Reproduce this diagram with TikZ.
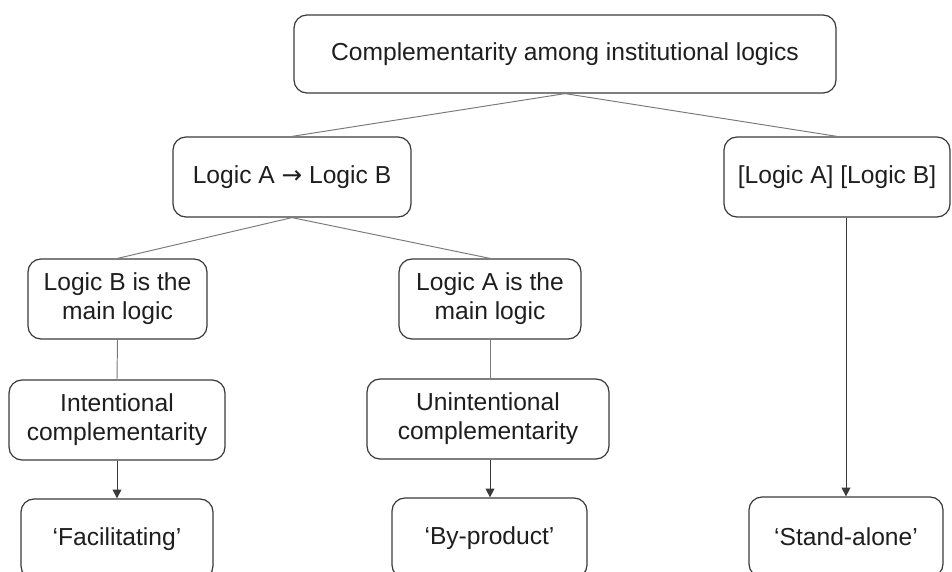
\documentclass[tikz,border=0pt]{standalone}
\usepackage{fontspec}
\setmainfont{Liberation Sans}
\newfontfamily\arrowfont{DejaVu Sans}
\usepackage{tikz}
\usetikzlibrary{arrows.meta}
\usepackage{xcolor}
\definecolor{boxline}{HTML}{3A3A3A}
\definecolor{linkline}{HTML}{7A7A7A}
\definecolor{txt}{HTML}{1E1E1E}

\tikzset{
  logicbox/.style={draw=boxline, line width=0.7pt, rounded corners=0.26cm, align=center,
    text=txt, font=\fontsize{14}{16.5}\selectfont, inner sep=0pt},
  link/.style={draw=linkline, line width=0.55pt},
  flow/.style={draw=boxline, line width=0.55pt, -{Triangle[length=5pt,width=5pt]}}
}

\begin{document}
\begin{tikzpicture}
  \useasboundingbox (0,0) rectangle (19.04,-11.44);
  \clip (0,0) rectangle (19.04,-11.44);
  \node[logicbox, minimum width=10.84cm, minimum height=1.56cm] (top) at (11.30,-1.08) {Complementarity among institutional logics};
  \node[logicbox, minimum width=4.76cm, minimum height=1.6cm] (ab) at (5.84,-3.54) {Logic A {\arrowfont\symbol{"2192}} Logic B};
  \node[logicbox, minimum width=4.52cm, minimum height=1.6cm] (sep) at (16.74,-3.54) {[Logic A] [Logic B]};
  \node[logicbox, minimum width=3.58cm, minimum height=1.6cm] (bmain) at (2.35,-5.98) {Logic B is the\\main logic};
  \node[logicbox, minimum width=3.64cm, minimum height=1.6cm] (amain) at (9.80,-5.98) {Logic A is the\\main logic};
  \node[logicbox, minimum width=4.32cm, minimum height=1.6cm] (inten) at (2.34,-8.40) {Intentional\\complementarity};
  \node[logicbox, minimum width=4.84cm, minimum height=1.6cm] (uninten) at (9.76,-8.38) {Unintentional\\complementarity};
  \node[logicbox, minimum width=3.84cm, minimum height=1.6cm] (facil) at (2.34,-10.78) {`Facilitating'};
  \node[logicbox, minimum width=3.90cm, minimum height=1.6cm] (byprod) at (9.79,-10.76) {`By-product'};
  \node[logicbox, minimum width=3.88cm, minimum height=1.6cm] (stand) at (16.92,-10.74) {`Stand-alone'};
  \draw[link] (top.south) -- (ab.north);
  \draw[link] (top.south) -- (sep.north);
  \draw[link] (ab.south) -- (bmain.north);
  \draw[link] (ab.south) -- (amain.north);
  \draw[link] (bmain.south) -- (inten.north);
  \draw[link] (amain.south) -- (uninten.north -| amain.south);
  \draw[flow] (inten.south) -- (facil.north);
  \draw[flow] (uninten.south -| amain.south) -- (byprod.north -| amain.south);
  \draw[flow] (sep.south -| stand.north) -- (stand.north);
\end{tikzpicture}
\end{document}
